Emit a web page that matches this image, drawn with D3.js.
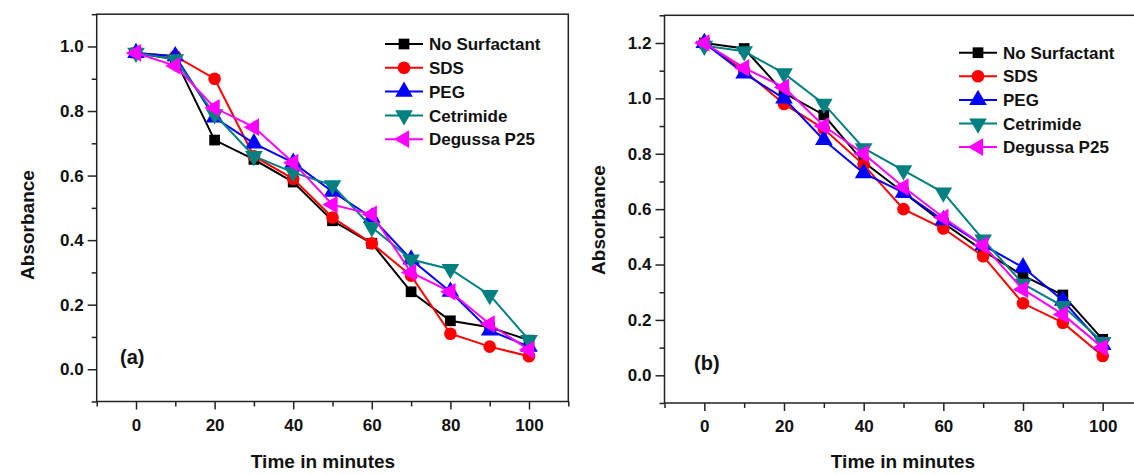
<!DOCTYPE html>
<html>
<head>
<meta charset="utf-8">
<script src="https://cdn.jsdelivr.net/npm/d3@7"></script>
<style>
  body { margin: 0; background: #fff; }
  svg text { font-family: "Liberation Sans", Arial, sans-serif; font-weight: bold; fill: #111; }
</style>
</head>
<body>
<div id="chart"></div>
<script>
// 1. Data
const times = [0, 10, 20, 30, 40, 50, 60, 70, 80, 90, 100];
const seriesNames = ["No Surfactant", "SDS", "PEG", "Cetrimide", "Degussa P25"];
const seriesColors = ["#000000", "#ff0000", "#0000ff", "#008080", "#ff00ff"];

// panel (a)
const a_noSurfactant = [0.98, 0.96, 0.71, 0.65, 0.58, 0.46, 0.39, 0.24, 0.15, 0.13, 0.09];
const a_sds          = [0.98, 0.97, 0.90, 0.66, 0.59, 0.47, 0.39, 0.29, 0.11, 0.07, 0.04];
const a_peg          = [0.98, 0.97, 0.78, 0.70, 0.64, 0.55, 0.47, 0.34, 0.24, 0.12, 0.07];
const a_cetrimide    = [0.98, 0.96, 0.79, 0.66, 0.61, 0.57, 0.44, 0.34, 0.31, 0.23, 0.09];
const a_degussa      = [0.98, 0.94, 0.81, 0.75, 0.64, 0.51, 0.48, 0.30, 0.24, 0.14, 0.06];

// panel (b)
const b_noSurfactant = [1.20, 1.18, 1.02, 0.94, 0.77, 0.66, 0.55, 0.45, 0.36, 0.29, 0.13];
const b_sds          = [1.20, 1.10, 0.98, 0.89, 0.76, 0.60, 0.53, 0.43, 0.26, 0.19, 0.07];
const b_peg          = [1.20, 1.09, 1.00, 0.85, 0.73, 0.66, 0.56, 0.47, 0.39, 0.27, 0.11];
const b_cetrimide    = [1.19, 1.17, 1.09, 0.98, 0.82, 0.74, 0.66, 0.49, 0.33, 0.25, 0.12];
const b_degussa      = [1.20, 1.11, 1.04, 0.90, 0.80, 0.68, 0.57, 0.47, 0.31, 0.22, 0.10];

// ticks
const xTicks = [0, 20, 40, 60, 80, 100];
const xMinorTicks = [-10, 10, 30, 50, 70, 90, 110];
const yTicksA = [0, 0.2, 0.4, 0.6, 0.8, 1.0];
const yMinorA = [-0.1, 0.1, 0.3, 0.5, 0.7, 0.9, 1.1];
const yTicksB = [0, 0.2, 0.4, 0.6, 0.8, 1.0, 1.2];
const yMinorB = [-0.1, 0.1, 0.3, 0.5, 0.7, 0.9, 1.1, 1.3];

// 2. Setup the canvas
const width = 1134;
const height = 474;

d3.select("#chart").html("");
const svg = d3.select("#chart")
    .append("svg")
    .attr("width", width)
    .attr("height", height);

// marker shapes: square, circle, up / down / left triangle
const symbolTypes = [d3.symbolSquare, d3.symbolCircle, d3.symbolTriangle, d3.symbolTriangle, d3.symbolTriangle];
const symbolSizes = [115, 125, 135, 135, 135];
const symbolRotate = [0, 0, 0, 180, -90];

function drawPanel(p) {
    const x = d3.scaleLinear().domain([-10, 110]).range(p.xRange);
    const y = d3.scaleLinear().domain(p.yDomain).range(p.yRange);
    const g = svg.append("g");

    // box
    g.append("rect")
        .attr("x", p.xRange[0]).attr("y", p.yRange[1])
        .attr("width", p.xRange[1] - p.xRange[0])
        .attr("height", p.yRange[0] - p.yRange[1])
        .attr("fill", "none").attr("stroke", "#222").attr("stroke-width", 1.5);

    // x axis
    g.append("g").attr("transform", `translate(0,${p.yRange[0]})`)
        .call(d3.axisBottom(x).tickValues(xTicks).tickSize(8).tickPadding(9).tickFormat(d3.format("d")));
    g.append("g").attr("transform", `translate(0,${p.yRange[0]})`)
        .call(d3.axisBottom(x).tickValues(xMinorTicks).tickSize(5).tickFormat(""));

    // y axis
    g.append("g").attr("transform", `translate(${p.xRange[0]},0)`)
        .call(d3.axisLeft(y).tickValues(p.yTicks).tickSize(9).tickPadding(4).tickFormat(d3.format(".1f")));
    g.append("g").attr("transform", `translate(${p.xRange[0]},0)`)
        .call(d3.axisLeft(y).tickValues(p.yMinor).tickSize(5).tickFormat(""));

    g.selectAll(".domain").remove();
    g.selectAll(".tick line").attr("stroke", "#222").attr("stroke-width", 1.5);
    g.selectAll(".tick text").style("font-size", "17px").attr("fill", "#111");

    // lines + markers
    const line = d3.line().x((d, i) => x(times[i])).y(d => y(d));
    p.series.forEach((vals, k) => {
        g.append("path")
            .datum(vals)
            .attr("d", line)
            .attr("fill", "none")
            .attr("stroke", seriesColors[k])
            .attr("stroke-width", 2);
        g.append("g")
            .selectAll("path")
            .data(vals)
            .join("path")
            .attr("d", d3.symbol().type(symbolTypes[k]).size(symbolSizes[k]))
            .attr("transform", (d, i) => `translate(${x(times[i])},${y(d)}) rotate(${symbolRotate[k]})`)
            .attr("fill", seriesColors[k]);
    });

    // legend
    const leg = g.append("g");
    seriesNames.forEach((name, k) => {
        const ly = p.legend.y + k * p.legend.dy;
        leg.append("line")
            .attr("x1", p.legend.x).attr("x2", p.legend.x + 38)
            .attr("y1", ly).attr("y2", ly)
            .attr("stroke", seriesColors[k]).attr("stroke-width", 2);
        leg.append("path")
            .attr("d", d3.symbol().type(symbolTypes[k]).size(symbolSizes[k]))
            .attr("transform", `translate(${p.legend.x + 19},${ly}) rotate(${symbolRotate[k]})`)
            .attr("fill", seriesColors[k]);
        leg.append("text")
            .attr("x", p.legend.x + 44).attr("y", ly)
            .attr("dy", "0.36em")
            .style("font-size", "17px")
            .text(name);
    });

    // panel tag
    g.append("text")
        .attr("x", p.tag.x).attr("y", p.tag.y)
        .style("font-size", "20px")
        .text(p.tag.text);

    // axis titles
    g.append("text")
        .attr("transform", `translate(${p.yTitleX},${p.yTitleY}) rotate(-90)`)
        .attr("text-anchor", "middle")
        .style("font-size", "19px")
        .text("Absorbance");
    g.append("text")
        .attr("x", p.xTitleX).attr("y", 468)
        .attr("text-anchor", "middle")
        .style("font-size", "19px")
        .text("Time in minutes");
}

drawPanel({
    xRange: [96.7, 568.3], yRange: [401.5, 14.2], yDomain: [-0.1, 1.1],
    yTicks: yTicksA, yMinor: yMinorA,
    series: [a_noSurfactant, a_sds, a_peg, a_cetrimide, a_degussa],
    legend: { x: 385, y: 44, dy: 23.8 },
    tag: { x: 120, y: 364, text: "(a)" },
    yTitleX: 34, yTitleY: 225, xTitleX: 323
});

drawPanel({
    xRange: [664.5, 1142.5], yRange: [403, 15.3], yDomain: [-0.1, 1.3],
    yTicks: yTicksB, yMinor: yMinorB,
    series: [b_noSurfactant, b_sds, b_peg, b_cetrimide, b_degussa],
    legend: { x: 959, y: 52.7, dy: 23.6 },
    tag: { x: 694, y: 370, text: "(b)" },
    yTitleX: 605, yTitleY: 220, xTitleX: 903
});
</script>
</body>
</html>
